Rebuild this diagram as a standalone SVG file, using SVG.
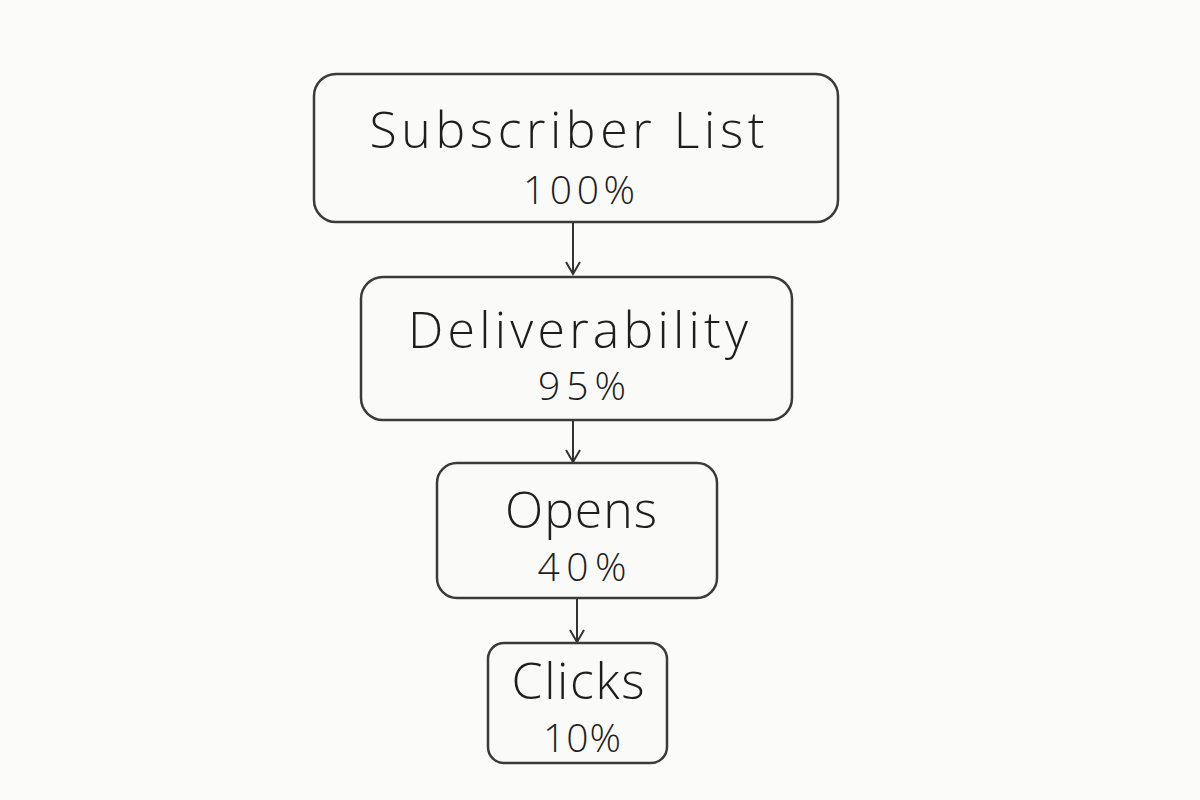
<svg xmlns="http://www.w3.org/2000/svg" width="1200" height="800" viewBox="0 0 1200 800">
<defs>
<style>
.box{fill:#fafaf8;stroke:#3a3a3a;stroke-width:2.5}
.t{font-family:"Open Sans","Liberation Sans","DejaVu Sans",sans-serif;font-weight:300;fill:#1e1e1e;text-anchor:middle}
.h{font-size:50px}
.p{font-size:39px}
.c{stroke:#333;stroke-width:2;fill:none}
</style>
<marker id="ah" markerWidth="16" markerHeight="16" refX="14" refY="8" orient="auto" markerUnits="userSpaceOnUse" viewBox="0 0 16 16">
<polyline points="2,1 14,8 2,15" fill="none" stroke="#333" stroke-width="2"/>
</marker>
</defs>
<rect width="1200" height="800" fill="#fbfbf9"/>
<g id="connectors">
<line class="c" x1="573" y1="222" x2="573" y2="274" marker-end="url(#ah)"/>
<line class="c" x1="573" y1="420" x2="573" y2="462" marker-end="url(#ah)"/>
<line class="c" x1="577" y1="598" x2="577" y2="642" marker-end="url(#ah)"/>
</g>
<g id="subscriber-list">
<rect class="box" x="314" y="74" width="524" height="148" rx="22"/>
<text class="t h" x="567" y="148" textLength="395" lengthAdjust="spacing">Subscriber List</text>
<text class="t p" x="579" y="204" textLength="112" lengthAdjust="spacing">100%</text>
</g>
<g id="deliverability">
<rect class="box" x="361" y="277" width="431" height="143" rx="22"/>
<text class="t h" x="578" y="348" textLength="340" lengthAdjust="spacing">Deliverability</text>
<text class="t p" x="582" y="400" textLength="88" lengthAdjust="spacing">95%</text>
</g>
<g id="opens">
<rect class="box" x="437" y="463" width="280" height="135" rx="20"/>
<text class="t h" x="581" y="528" textLength="152" lengthAdjust="spacing">Opens</text>
<text class="t p" x="582" y="581" textLength="89" lengthAdjust="spacing">40%</text>
</g>
<g id="clicks">
<rect class="box" x="488" y="643" width="179" height="120" rx="16"/>
<text class="t h" x="578" y="699" font-size="44" textLength="133" lengthAdjust="spacing">Clicks</text>
<text class="t p" x="582" y="752" font-size="31" textLength="78" lengthAdjust="spacing">10%</text>
</g>
</svg>
